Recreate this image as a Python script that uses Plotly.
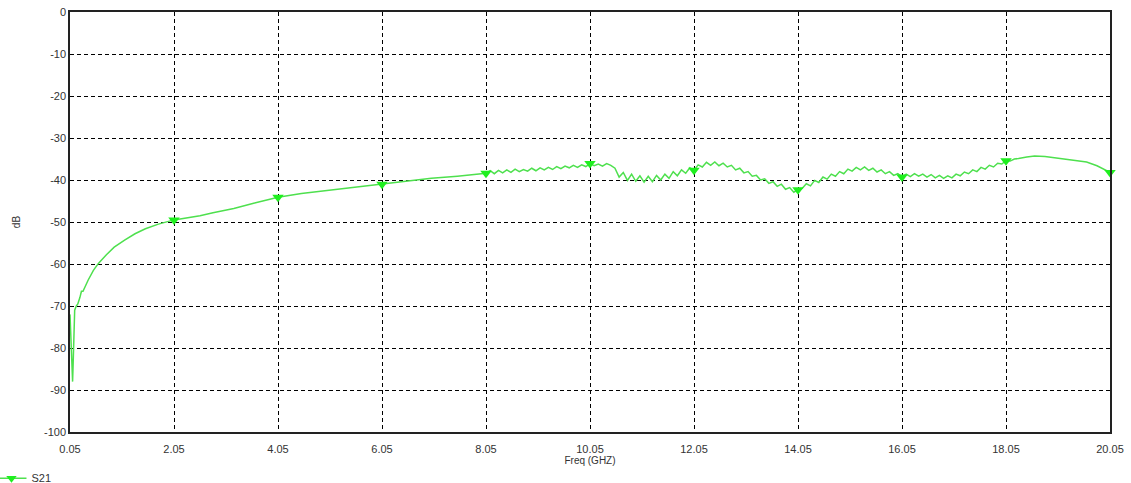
import plotly.graph_objects as go

# ---- data ----
freq_smooth_lo = [0.05, 0.07, 0.09, 0.10, 0.11, 0.12, 0.14, 0.17, 0.20, 0.24, 0.27, 0.30, 0.35, 0.40,
                  0.50, 0.60, 0.75, 0.90, 1.10, 1.30, 1.50, 1.75, 2.05, 2.30, 2.55, 2.80, 3.20, 3.60,
                  4.05, 4.50, 5.00, 5.50, 6.05, 6.50, 7.00, 7.50, 8.05]
s21_smooth_lo = [-72, -79, -87, -88, -84, -76, -71, -70, -69.5, -68, -66.5, -66.5, -65, -63.8,
                 -61.5, -59.8, -57.8, -56, -54.3, -52.8, -51.6, -50.5, -49.5, -49, -48.5, -47.8, -46.8, -45.5,
                 -44.1, -43.2, -42.5, -41.8, -41.0, -40.3, -39.6, -39.1, -38.4]

freq_ripple = [8.13, 8.21, 8.29, 8.37, 8.45, 8.53, 8.61, 8.69, 8.77, 8.85, 8.93, 9.01, 9.09, 9.17, 9.25,
               9.33, 9.41, 9.49, 9.57, 9.65, 9.73, 9.81, 9.89, 9.97, 10.05, 10.13, 10.21, 10.29, 10.37,
               10.45, 10.53, 10.61, 10.69, 10.77, 10.85, 10.93, 11.01, 11.09, 11.17, 11.25, 11.33, 11.41,
               11.49, 11.57, 11.65, 11.73, 11.81, 11.89, 11.97, 12.05, 12.13, 12.21, 12.29, 12.37, 12.45,
               12.53, 12.61, 12.69, 12.77, 12.85, 12.93, 13.01, 13.09, 13.17, 13.25, 13.33, 13.41, 13.49,
               13.57, 13.65, 13.73, 13.81, 13.89, 13.97, 14.05, 14.13, 14.21, 14.29, 14.37, 14.45, 14.53,
               14.61, 14.69, 14.77, 14.85, 14.93, 15.01, 15.09, 15.17, 15.25, 15.33, 15.41, 15.49, 15.57,
               15.65, 15.73, 15.81, 15.89, 15.97, 16.05, 16.13, 16.21, 16.29, 16.37, 16.45, 16.53, 16.61,
               16.69, 16.77, 16.85, 16.93, 17.01, 17.09, 17.17, 17.25, 17.33, 17.41, 17.49, 17.57, 17.65,
               17.73, 17.81, 17.89, 17.97, 18.05, 18.13, 18.21, 18.29]
s21_ripple = [-37.8, -38.5, -37.7, -38.3, -37.6, -38.2, -37.4, -38.0, -37.5, -37.9, -37.2, -37.8, -37.1, -37.6, -37.0,
              -37.5, -36.8, -37.3, -36.7, -37.1, -36.5, -37.0, -36.4, -36.8, -36.1, -36.6, -36.2, -36.7, -36.1,
              -36.5, -37.2, -39.3, -38.2, -40.1, -38.6, -40.3, -39.0, -40.5, -39.1, -40.4, -38.9, -40.0,
              -38.6, -39.6, -38.0, -39.0, -37.6, -38.4, -37.1, -37.7, -36.4, -36.9, -35.8, -36.5, -35.7,
              -36.6, -36.0, -36.9, -36.5, -37.6, -37.2, -38.3, -38.0, -39.1, -38.9, -40.0, -39.7, -40.8,
              -40.4, -41.5, -41.0, -42.2, -41.8, -42.9, -42.3, -42.0, -40.9, -41.4, -40.1, -40.6, -39.3,
              -39.8, -38.6, -39.1, -38.0, -38.5, -37.4, -37.9, -37.0, -37.6, -36.9, -37.7, -37.2, -38.1,
              -37.6, -38.5, -38.0, -38.9, -38.5, -39.3, -38.6, -39.2, -38.5, -39.1, -38.6, -39.3, -38.7,
              -39.5, -38.9, -39.6, -39.0, -39.5, -38.6, -39.0, -38.1, -38.5, -37.6, -38.0, -37.0, -37.4,
              -36.5, -36.9, -36.0, -36.2, -35.4, -35.5, -35.0, -34.9]

freq_smooth_hi = [18.45, 18.6, 18.8, 19.0, 19.2, 19.4, 19.6, 19.8, 19.95, 20.05]
s21_smooth_hi = [-34.5, -34.3, -34.4, -34.7, -35.0, -35.3, -35.7, -36.6, -37.6, -38.2]

marker_freq = [2.05, 4.05, 6.05, 8.05, 10.05, 12.05, 14.05, 16.05, 18.05, 20.05]
marker_s21 = [-49.5, -44.1, -41.0, -38.4, -36.1, -37.7, -42.3, -39.3, -35.4, -38.2]

x_ticks = [0.05, 2.05, 4.05, 6.05, 8.05, 10.05, 12.05, 14.05, 16.05, 18.05, 20.05]
y_ticks = [0, -10, -20, -30, -40, -50, -60, -70, -80, -90, -100]

freq = freq_smooth_lo + freq_ripple + freq_smooth_hi
s21 = s21_smooth_lo + s21_ripple + s21_smooth_hi

LINE = "#4ee04e"
MARK = "#1fef1f"

fig = go.Figure()
fig.add_trace(go.Scatter(x=freq, y=s21, mode="lines", line=dict(color=LINE, width=1.5),
                         showlegend=False, hoverinfo="skip"))
fig.add_trace(go.Scatter(x=marker_freq, y=marker_s21, mode="markers", name="S21",
                         marker=dict(symbol="triangle-down", size=10, color=MARK),
                         cliponaxis=False, showlegend=False))
# legend entry (lines + markers)
fig.add_trace(go.Scatter(x=[None], y=[None], mode="lines+markers", name="S21",
                         line=dict(color=LINE, width=1.5),
                         marker=dict(symbol="triangle-down", size=9, color=MARK)))

axis_font = dict(family="Liberation Sans, Arial, sans-serif", size=11, color="#333333")
grid_dash = "4px,3px"
fig.update_xaxes(range=[0.05, 20.05], tickvals=x_ticks, ticktext=[f"{v:.2f}" for v in x_ticks],
                 showgrid=True, gridcolor="#000000", griddash=grid_dash, gridwidth=1,
                 showline=True, linecolor="#222222", linewidth=1.5, mirror=True,
                 ticks="outside", ticklen=6, tickcolor="rgba(0,0,0,0)",
                 tickfont=axis_font, zeroline=False, automargin=False,
                 title=dict(text="Freq (GHZ)", font=dict(family="Liberation Sans, Arial, sans-serif",
                                                          size=10, color="#333333"), standoff=2))
fig.update_yaxes(range=[-100, 0], tickvals=y_ticks, ticktext=[str(v) for v in y_ticks],
                 showgrid=True, gridcolor="#000000", griddash=grid_dash, gridwidth=1,
                 showline=True, linecolor="#222222", linewidth=1.5, mirror=True,
                 ticks="", tickfont=axis_font, zeroline=False, automargin=False,
                 title=dict(text="dB", font=dict(family="Liberation Sans, Arial, sans-serif",
                                                  size=10, color="#333333"), standoff=22))

fig.update_layout(width=1131, height=483, plot_bgcolor="white", paper_bgcolor="white",
                  margin=dict(l=70, r=21, t=12, b=51, autoexpand=False),
                  legend=dict(x=-0.0755, y=-0.11, xanchor="left", yanchor="middle",
                              font=axis_font, bgcolor="rgba(0,0,0,0)", itemwidth=30),
                  showlegend=True)

fig.write_html("out.html", config={"displayModeBar": False},
               post_script="document.body.style.margin='0';document.body.style.padding='0';")
